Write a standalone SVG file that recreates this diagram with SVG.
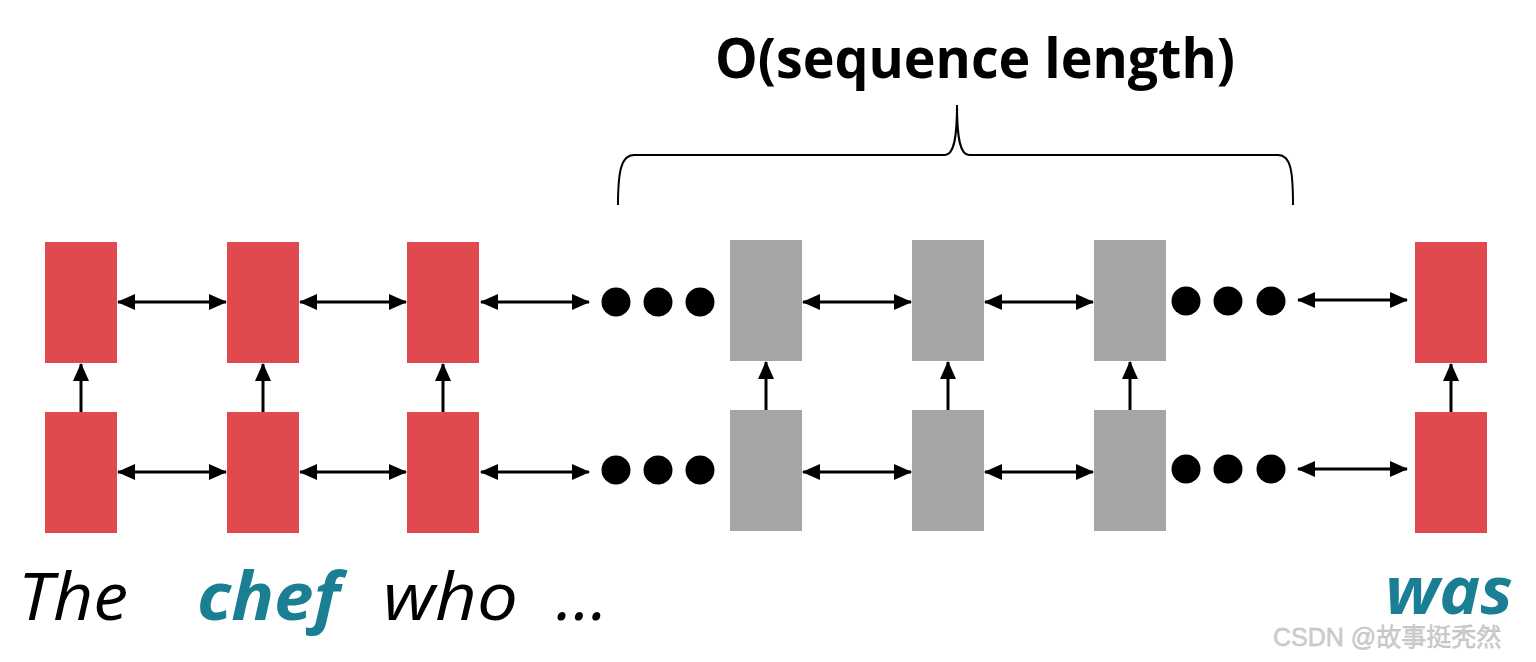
<svg xmlns="http://www.w3.org/2000/svg" width="1536" height="662" viewBox="0 0 1536 662">
<defs>
<marker id="ah" viewBox="0 0 18 16" refX="17" refY="8" markerWidth="18" markerHeight="16" markerUnits="userSpaceOnUse" orient="auto-start-reverse">
<path d="M0,0 L18,8 L0,16 Z" fill="#000"/>
</marker>
<style>
.red{fill:#e04a4e}
.gray{fill:#a6a6a6}
.con{stroke:#000;stroke-width:3;fill:none}
.dot{fill:#000}
.word{font-family:"Open Sans","Noto Sans",sans-serif;font-style:italic;font-size:66px}
.blk{fill:#000}
.teal{fill:#1b7f94;font-weight:bold}
</style>
</defs>
<rect width="1536" height="662" fill="#fff"/>

<g id="title">
<text x="975" y="78" text-anchor="middle" font-family="'Open Sans','Noto Sans',sans-serif" font-weight="bold" font-size="56" textLength="520" lengthAdjust="spacingAndGlyphs">O(sequence length)</text>
</g>
<g id="brace">
<path d="M618,205 C618,172 621,155 634,155 L945,155 C953,155 957,142 957,105 C957,142 961,155 969,155 L1278,155 C1291,155 1293,172 1293,205" fill="none" stroke="#000" stroke-width="2"/>
</g>

<g id="nodes">
<g id="t1"><rect class="red" x="45" y="242" width="72" height="121"/></g>
<g id="t2"><rect class="red" x="227" y="242" width="72" height="121"/></g>
<g id="t3"><rect class="red" x="407" y="242" width="72" height="121"/></g>
<g id="t4"><rect class="gray" x="730" y="240" width="72" height="121"/></g>
<g id="t5"><rect class="gray" x="912" y="240" width="72" height="121"/></g>
<g id="t6"><rect class="gray" x="1094" y="240" width="72" height="121"/></g>
<g id="t7"><rect class="red" x="1415" y="242" width="72" height="121"/></g>
<g id="b1"><rect class="red" x="45" y="412" width="72" height="121"/></g>
<g id="b2"><rect class="red" x="227" y="412" width="72" height="121"/></g>
<g id="b3"><rect class="red" x="407" y="412" width="72" height="121"/></g>
<g id="b4"><rect class="gray" x="730" y="410" width="72" height="121"/></g>
<g id="b5"><rect class="gray" x="912" y="410" width="72" height="121"/></g>
<g id="b6"><rect class="gray" x="1094" y="410" width="72" height="121"/></g>
<g id="b7"><rect class="red" x="1415" y="412" width="72" height="121"/></g>
<g id="dots1">
<circle class="dot" cx="616" cy="302" r="14.5"/><circle class="dot" cx="658" cy="302" r="14.5"/><circle class="dot" cx="700" cy="302" r="14.5"/>
</g>
<g id="dots2">
<circle class="dot" cx="616" cy="470" r="14.5"/><circle class="dot" cx="658" cy="470" r="14.5"/><circle class="dot" cx="700" cy="470" r="14.5"/>
</g>
<g id="dots3">
<circle class="dot" cx="1186" cy="301" r="14.5"/><circle class="dot" cx="1228" cy="301" r="14.5"/><circle class="dot" cx="1271" cy="301" r="14.5"/>
</g>
<g id="dots4">
<circle class="dot" cx="1186" cy="469" r="14.5"/><circle class="dot" cx="1228" cy="469" r="14.5"/><circle class="dot" cx="1271" cy="469" r="14.5"/>
</g>
</g>

<g id="connectors">
<line class="con" x1="118" y1="302" x2="226" y2="302" marker-start="url(#ah)" marker-end="url(#ah)"/>
<line class="con" x1="300" y1="302" x2="406" y2="302" marker-start="url(#ah)" marker-end="url(#ah)"/>
<line class="con" x1="481" y1="302" x2="589" y2="302" marker-start="url(#ah)" marker-end="url(#ah)"/>
<line class="con" x1="803" y1="302" x2="911" y2="302" marker-start="url(#ah)" marker-end="url(#ah)"/>
<line class="con" x1="985" y1="302" x2="1093" y2="302" marker-start="url(#ah)" marker-end="url(#ah)"/>
<line class="con" x1="1298" y1="300" x2="1407" y2="300" marker-start="url(#ah)" marker-end="url(#ah)"/>
<line class="con" x1="118" y1="472" x2="226" y2="472" marker-start="url(#ah)" marker-end="url(#ah)"/>
<line class="con" x1="300" y1="472" x2="406" y2="472" marker-start="url(#ah)" marker-end="url(#ah)"/>
<line class="con" x1="481" y1="472" x2="589" y2="472" marker-start="url(#ah)" marker-end="url(#ah)"/>
<line class="con" x1="803" y1="472" x2="911" y2="472" marker-start="url(#ah)" marker-end="url(#ah)"/>
<line class="con" x1="985" y1="472" x2="1093" y2="472" marker-start="url(#ah)" marker-end="url(#ah)"/>
<line class="con" x1="1298" y1="469" x2="1407" y2="469" marker-start="url(#ah)" marker-end="url(#ah)"/>
<line class="con" x1="81" y1="412" x2="81" y2="364" marker-end="url(#ah)"/>
<line class="con" x1="263" y1="412" x2="263" y2="364" marker-end="url(#ah)"/>
<line class="con" x1="443" y1="412" x2="443" y2="364" marker-end="url(#ah)"/>
<line class="con" x1="766" y1="410" x2="766" y2="362" marker-end="url(#ah)"/>
<line class="con" x1="948" y1="410" x2="948" y2="362" marker-end="url(#ah)"/>
<line class="con" x1="1130" y1="410" x2="1130" y2="362" marker-end="url(#ah)"/>
<line class="con" x1="1451" y1="412" x2="1451" y2="364" marker-end="url(#ah)"/>
</g>

<g id="words">
<text class="word blk" x="18" y="620" textLength="110" lengthAdjust="spacingAndGlyphs">The</text>
<text class="word teal" x="197" y="620" textLength="143" lengthAdjust="spacingAndGlyphs">chef</text>
<text class="word blk" x="383" y="620" textLength="135" lengthAdjust="spacingAndGlyphs">who</text>
<text class="word blk" x="556" y="620" textLength="52" lengthAdjust="spacingAndGlyphs">…</text>
<text class="word teal" x="1385" y="614" textLength="128" lengthAdjust="spacingAndGlyphs">was</text>
</g>

<g id="watermark">
<text x="1273" y="646" font-family="'Liberation Sans','Noto Sans CJK SC',sans-serif" font-size="25" fill="#cfcfcf" stroke="#b5b5b5" stroke-width="0.4">CSDN @故事挺秃然</text>
</g>
</svg>
